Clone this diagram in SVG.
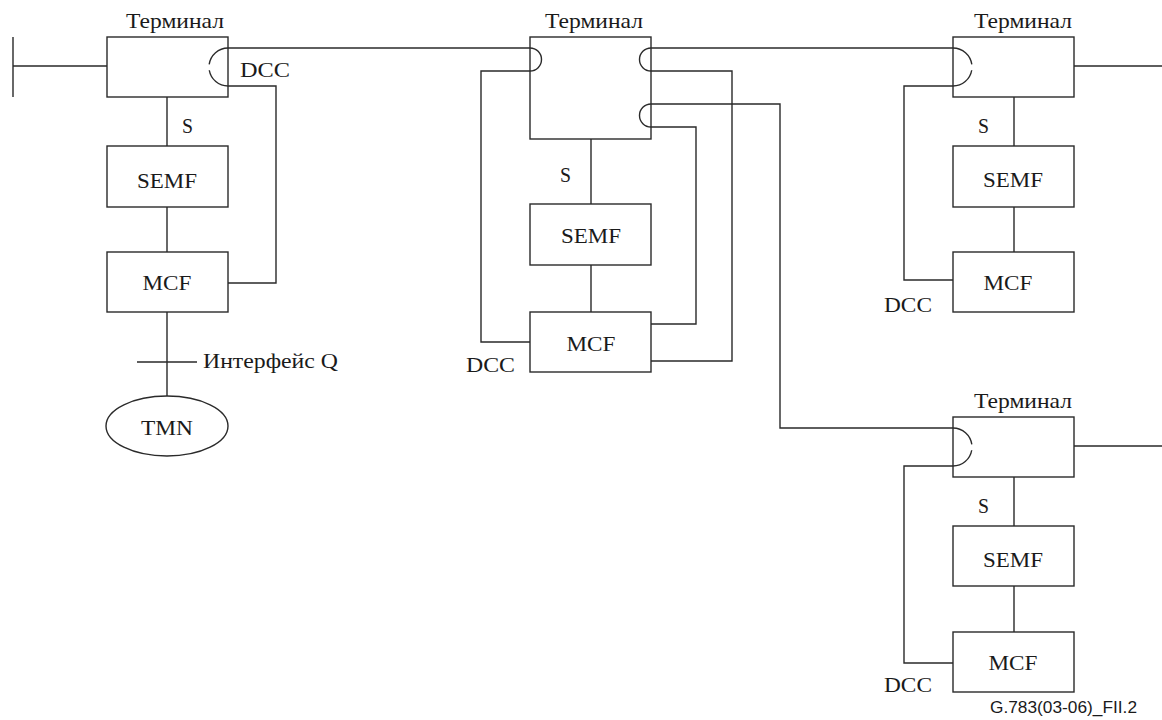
<svg xmlns="http://www.w3.org/2000/svg" width="1162" height="720" viewBox="0 0 1162 720">
<style>
.box{fill:#fff;stroke:#2a2a2a;stroke-width:1.4}
.ln{fill:none;stroke:#2a2a2a;stroke-width:1.4}
.gap{stroke-dasharray:27 6 60}
text{font-family:"Liberation Serif","Times New Roman",serif;font-size:22px;fill:#1a1a1a}
.c{text-anchor:middle}
.ref{font-family:"Liberation Sans",Arial,sans-serif;font-size:16px}
</style>
<rect width="1162" height="720" fill="#fff"/>

<g id="connectors">
  <path class="ln" d="M13 37V97M13 66H107"/>
  <path class="ln" d="M228 48H530"/>
  <path class="ln" d="M228 86H276V283H228"/>
  <path class="ln" d="M167 97V146M167 207V252M167 312V396M137 362H197"/>
  <path class="ln" d="M530 71H481V342H530"/>
  <path class="ln" d="M651 48H953"/>
  <path class="ln" d="M651 71H732V361H651"/>
  <path class="ln" d="M651 104H780V428H953"/>
  <path class="ln" d="M651 127H696V324H651"/>
  <path class="ln" d="M591 139V204M591 265V312"/>
  <path class="ln" d="M953 86H904V280H953M1074 66H1162M1014 97V146M1014 207V252"/>
  <path class="ln" d="M953 466H904V663H953M1074 446H1162M1014 477V526M1014 586V632"/>
</g>

<g id="terminal1">
  <rect class="box" x="107" y="37" width="121" height="60"/>
  <path class="ln gap" d="M228 48A19 19 0 0 0 228 86"/>
  <text class="c" x="175" y="28" textLength="98" lengthAdjust="spacingAndGlyphs">Терминал</text>
  <text x="240" y="77" textLength="50" lengthAdjust="spacingAndGlyphs">DCC</text>
  <text x="182" y="133" textLength="11" lengthAdjust="spacingAndGlyphs">S</text>
</g>
<g id="semf1">
  <rect class="box" x="107" y="146" width="121" height="61"/>
  <text class="c" x="167" y="188" textLength="60" lengthAdjust="spacingAndGlyphs">SEMF</text>
</g>
<g id="mcf1">
  <rect class="box" x="107" y="252" width="121" height="60"/>
  <text class="c" x="167" y="290" textLength="49" lengthAdjust="spacingAndGlyphs">MCF</text>
  <text x="203" y="368" textLength="135" lengthAdjust="spacingAndGlyphs">Интерфейс Q</text>
</g>
<g id="tmn">
  <ellipse class="box" cx="167" cy="426" rx="61" ry="30"/>
  <text class="c" x="167" y="435" textLength="52" lengthAdjust="spacingAndGlyphs">TMN</text>
</g>

<g id="terminal2">
  <rect class="box" x="530" y="37" width="121" height="102"/>
  <path class="ln" d="M530 48A11.5 11.5 0 0 1 530 71"/>
  <path class="ln" d="M651 48A11.5 11.5 0 0 0 651 71"/>
  <path class="ln" d="M651 104A11.5 11.5 0 0 0 651 127"/>
  <text class="c" x="594" y="28" textLength="98" lengthAdjust="spacingAndGlyphs">Терминал</text>
  <text x="560" y="182" textLength="11" lengthAdjust="spacingAndGlyphs">S</text>
</g>
<g id="semf2">
  <rect class="box" x="530" y="204" width="121" height="61"/>
  <text class="c" x="591" y="243" textLength="60" lengthAdjust="spacingAndGlyphs">SEMF</text>
</g>
<g id="mcf2">
  <rect class="box" x="530" y="312" width="121" height="60"/>
  <text class="c" x="591" y="351" textLength="49" lengthAdjust="spacingAndGlyphs">MCF</text>
  <text x="466" y="372" textLength="49" lengthAdjust="spacingAndGlyphs">DCC</text>
</g>

<g id="terminal3">
  <rect class="box" x="953" y="37" width="121" height="60"/>
  <path class="ln gap" d="M953 48A19 19 0 0 1 953 86"/>
  <text class="c" x="1023" y="28" textLength="98" lengthAdjust="spacingAndGlyphs">Терминал</text>
  <text x="978" y="133" textLength="11" lengthAdjust="spacingAndGlyphs">S</text>
</g>
<g id="semf3">
  <rect class="box" x="953" y="146" width="121" height="61"/>
  <text class="c" x="1013" y="187" textLength="60" lengthAdjust="spacingAndGlyphs">SEMF</text>
</g>
<g id="mcf3">
  <rect class="box" x="953" y="252" width="121" height="60"/>
  <text class="c" x="1008" y="290" textLength="49" lengthAdjust="spacingAndGlyphs">MCF</text>
  <text x="884" y="312" textLength="48" lengthAdjust="spacingAndGlyphs">DCC</text>
</g>

<g id="terminal4">
  <rect class="box" x="953" y="417" width="121" height="60"/>
  <path class="ln gap" d="M953 428A19 19 0 0 1 953 466"/>
  <text class="c" x="1023" y="408" textLength="98" lengthAdjust="spacingAndGlyphs">Терминал</text>
  <text x="978" y="513" textLength="11" lengthAdjust="spacingAndGlyphs">S</text>
</g>
<g id="semf4">
  <rect class="box" x="953" y="526" width="121" height="60"/>
  <text class="c" x="1013" y="567" textLength="60" lengthAdjust="spacingAndGlyphs">SEMF</text>
</g>
<g id="mcf4">
  <rect class="box" x="953" y="632" width="121" height="60"/>
  <text class="c" x="1013" y="670" textLength="49" lengthAdjust="spacingAndGlyphs">MCF</text>
  <text x="884" y="692" textLength="48" lengthAdjust="spacingAndGlyphs">DCC</text>
</g>

<text class="ref" x="990" y="713" textLength="147" lengthAdjust="spacingAndGlyphs">G.783(03-06)_FII.2</text>
</svg>
